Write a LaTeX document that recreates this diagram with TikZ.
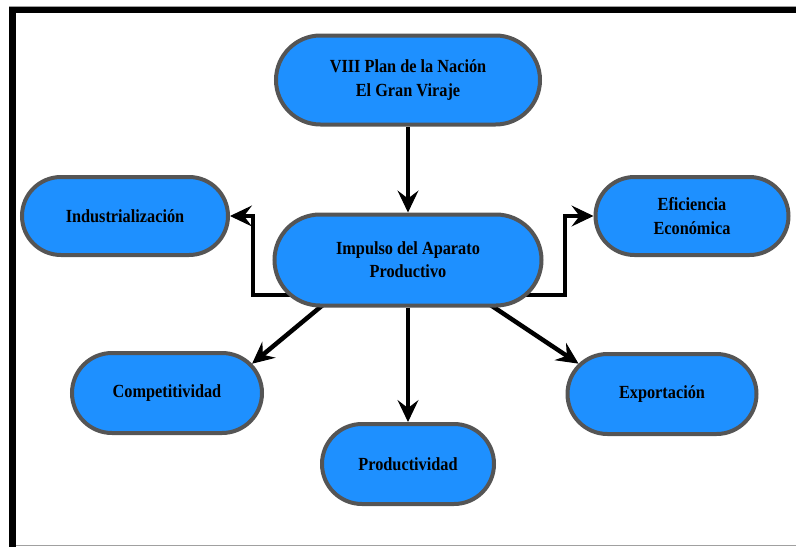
\documentclass[tikz,border=0pt]{standalone}
\usepackage{fontspec}
\newfontfamily\boxfont[FakeStretch=0.88]{Liberation Serif}
\usetikzlibrary{arrows.meta,shapes.misc,backgrounds}
\definecolor{boxblue}{HTML}{1E90FF}
\definecolor{boxedge}{HTML}{555555}
\definecolor{rulegray}{HTML}{A0A0A0}
\begin{document}
\begin{tikzpicture}[x=1pt,y=-1pt,
  pill/.style={rounded rectangle, draw=boxedge, line width=4pt, fill=boxblue,
    inner sep=0pt, align=center, text=black,
    font=\boxfont\bfseries\fontsize{18.5}{23.3}\selectfont},
  conn/.style={draw=black, line width=4.5pt,
    -{Stealth[length=22pt,width=21pt,inset=8pt,line width=1pt]}}]
\useasboundingbox (0,0) rectangle (796,547);
% page frame
\draw[rulegray, line width=1pt] (9,6.5) -- (796,6.5);
\draw[black, line width=6pt] (9,10) -- (796,10);
\draw[black, line width=7pt] (12.5,7) -- (12.5,547);
\draw[rulegray, line width=1.5pt] (16,545.5) -- (796,545.5);
% boxes
\node[pill, minimum width=264pt, minimum height=89pt] (plan) at (408,80)
  {VIII Plan de la Nación\\El Gran Viraje};
\node[pill, minimum width=267pt, minimum height=91pt] (impulso) at (408,260)
  {Impulso del Aparato\\Productivo};
\node[pill, minimum width=206pt, minimum height=78pt] (ind) at (125,216)
  {Industrialización};
\node[pill, minimum width=193pt, minimum height=78pt] (efi) at (692,216)
  {Eficiencia\\Económica};
\node[pill, minimum width=190pt, minimum height=80pt] (comp) at (167,393)
  {Competitividad};
\node[pill, minimum width=189pt, minimum height=80pt] (expo) at (662,394)
  {Exportación};
\node[pill, minimum width=172pt, minimum height=80pt] (prod) at (408,464)
  {Productividad};
% connectors, drawn behind the boxes
\coordinate (elbowL) at (253,295);
\coordinate (elbowR) at (565,295);
\coordinate (startC) at (324,304);
\coordinate (startE) at (489,304);
\begin{scope}[on background layer]
\draw[conn] (plan.south) -- (impulso.north);
\draw[conn] (impulso.center |- elbowL) -- (elbowL) |- (ind.east);
\draw[conn] (impulso.center |- elbowR) -- (elbowR) |- (efi.west);
\draw[conn] (startC) -- (comp.19);
\draw[conn] (startE) -- (expo.160);
\draw[conn] (impulso.south) -- (prod.north);
\end{scope}
\end{tikzpicture}
\end{document}
